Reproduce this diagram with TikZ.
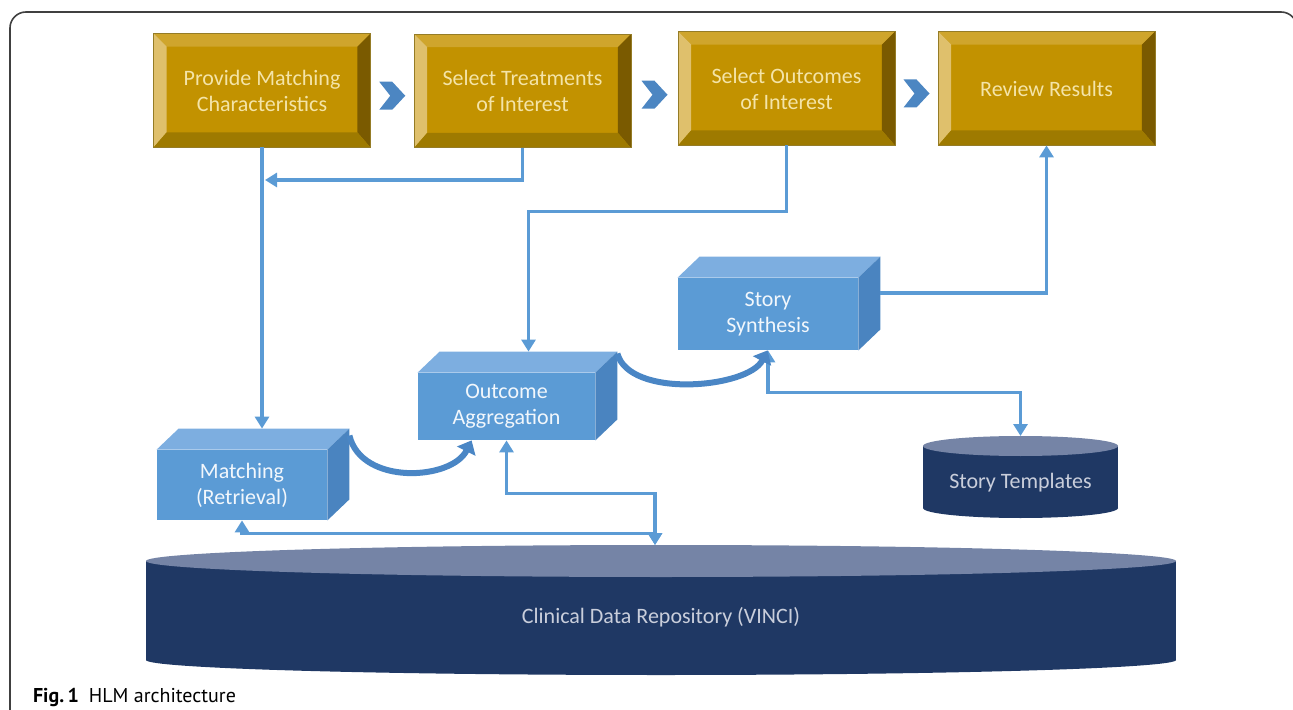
\documentclass[tikz,border=0pt]{standalone}
\usepackage{fontspec}
\setmainfont{Carlito}
\newfontfamily\capfont{PT Sans}
\usetikzlibrary{calc,arrows.meta}

\definecolor{gold}{HTML}{C29200}
\definecolor{goldhi}{HTML}{CFA52C}
\definecolor{goldlight}{HTML}{DFC06C}
\definecolor{golddark}{HTML}{7A5A00}
\definecolor{goldlow}{HTML}{9E7A00}
\definecolor{goldtxt}{HTML}{F4E4A8}
\definecolor{boxfront}{HTML}{5B9BD5}
\definecolor{boxtopc}{HTML}{7DAEE0}
\definecolor{boxsidec}{HTML}{4A84C0}
\definecolor{linkblue}{HTML}{5B9BD5}
\definecolor{curveblue}{HTML}{4A86C5}
\definecolor{navy}{HTML}{1F3864}
\definecolor{cyltopc}{HTML}{7584A6}
\definecolor{cyltxt}{HTML}{C9CEDB}

% unit = one pixel of the reference, y downwards
\newcommand{\bevel}[1]{%
  \fill[goldhi] (#1.north west) -- (#1.north east) -- ([shift={(-13,13)}]#1.north east) -- ([shift={(13,13)}]#1.north west) -- cycle;
  \fill[goldlight] (#1.north west) -- ([shift={(13,13)}]#1.north west) -- ([shift={(13,-15)}]#1.south west) -- (#1.south west) -- cycle;
  \fill[golddark] (#1.north east) -- ([shift={(-13,13)}]#1.north east) -- ([shift={(-13,-15)}]#1.south east) -- (#1.south east) -- cycle;
  \fill[goldlow] (#1.south west) -- ([shift={(13,-15)}]#1.south west) -- ([shift={(-13,-15)}]#1.south east) -- (#1.south east) -- cycle;
  \draw[goldlow!70!gray,line width=0.4pt] (#1.north west) rectangle (#1.south east);}
\newcommand{\cuboid}[1]{%
  \fill[boxtopc] (#1.north west) -- ++(22,-21) -- ([shift={(22,-21)}]#1.north east) -- (#1.north east) -- cycle;
  \fill[boxsidec] (#1.north east) -- ++(22,-21) -- ([shift={(22,-21)}]#1.south east) -- (#1.south east) -- cycle;
  \coordinate (#1-back) at ([shift={(22,-21)}]#1.north);}

\begin{document}
\begin{tikzpicture}[x=0.5pt,y=-0.5pt,
  goldbox/.style={fill=gold,text=goldtxt,align=center,inner sep=0pt,
    minimum width=108pt,minimum height=56.5pt,font=\fontsize{11}{13}\selectfont},
  cube/.style={fill=boxfront,text=white!92!boxfront,align=center,inner sep=0pt,
    font=\fontsize{11}{13}\selectfont},
  cyltext/.style={text=cyltxt,font=\fontsize{11}{13}\selectfont},
  flow/.style={draw=linkblue,line width=1.6pt,>={Triangle[length=6pt,width=7pt]}},
  curve/.style={draw=curveblue,line width=3pt,-{Triangle[length=6pt,width=10pt]}},
  chev/.style={fill=boxsidec!90!boxfront},
  frame/.style={draw=black!75,line width=0.8pt}]
  \useasboundingbox (0,0) rectangle (1293,710);
  \draw[frame,rounded corners=8] (10,714) -- (10,12) -- (1297,12) -- (1297,714);

  \node[goldbox] (pmc) at (262,90.5) {Provide Matching\\Characteristics};
  \node[goldbox] (stt) at (522.5,91) {Select Treatments\\of Interest};
  \node[goldbox] (soi) at (786.5,88.5) {Select Outcomes\\of Interest};
  \node[goldbox] (rr) at (1046.5,88.5) {Review Results};
  \bevel{pmc} \bevel{stt} \bevel{soi} \bevel{rr}
  \foreach \a/\b in {pmc/stt,stt/soi,soi/rr}
    \fill[chev] ($(\a.east)!0.5!(\b.west)$) ++(-13,-9) -- ++(13,0) -- ++(13,14)
      -- ++(-13,14) -- ++(-13,0) -- ++(11,-14) -- cycle;

  % database cylinders
  \fill[navy] (146,561) rectangle (1176,660);
  \fill[navy] (661,660) ellipse [x radius=515,y radius=15];
  \fill[cyltopc] (661,561) ellipse [x radius=515,y radius=16];
  \node[cyltext] (cdr) at (661,617) {Clinical Data Repository (VINCI)};
  \coordinate (cdrtop) at (655,545);

  \fill[navy] (923,446) rectangle (1118,508);
  \fill[navy] (1020.5,508) ellipse [x radius=97.5,y radius=10];
  \fill[cyltopc] (1020.5,446) ellipse [x radius=97.5,y radius=10];
  \node[cyltext] (tpl) at (1020.5,483) {Story Templates};
  \coordinate (tpltop) at (1020.5,436);

  \node[cube,minimum width=85pt,minimum height=35pt] (match) at (242,485) {Matching\\(Retrieval)};
  \node[cube,minimum width=88.5pt,minimum height=33.5pt] (oag) at (506.5,406.5) {Outcome\\Aggregation};
  \node[cube,minimum width=90pt,minimum height=36pt] (sts) at (768,314) {Story\\Synthesis};
  \cuboid{match} \cuboid{oag} \cuboid{sts}

  \coordinate (j1) at (265,180);
  \coordinate (sts-side) at ([shift={(22,-21)}]sts.east);
  \draw[flow,->] (pmc.south) -- (pmc.south |- match-back);
  \draw[flow,->] (stt.south) |- (j1);
  \draw[flow,->] (soi.south) -- ++(0,66) -| (oag-back);
  \draw[flow,->] (sts-side) -| (rr.south);
  \draw[flow,<->] (sts.south) -- ++(0,42) -| (tpltop);
  \draw[flow,<->] (oag.south) -- ++(0,53) -| (cdrtop);
  \draw[flow,<->] (match.south) -- ++(0,13) -| (cdrtop);

  \draw[curve] ([shift={(22,-14)}]match.north east) .. controls +(12,50) and +(-20,40) .. ([xshift=27]oag.south west);
  \draw[curve] ([shift={(22,-19)}]oag.north east) .. controls +(12,45) and +(-20,38) .. ([xshift=45]sts.south west);

  \node[anchor=base west,font=\capfont\fontsize{10}{12}\selectfont] (cap) at (26,702) {\textbf{Fig.\,1}\enspace HLM architecture};
\end{tikzpicture}
\end{document}
